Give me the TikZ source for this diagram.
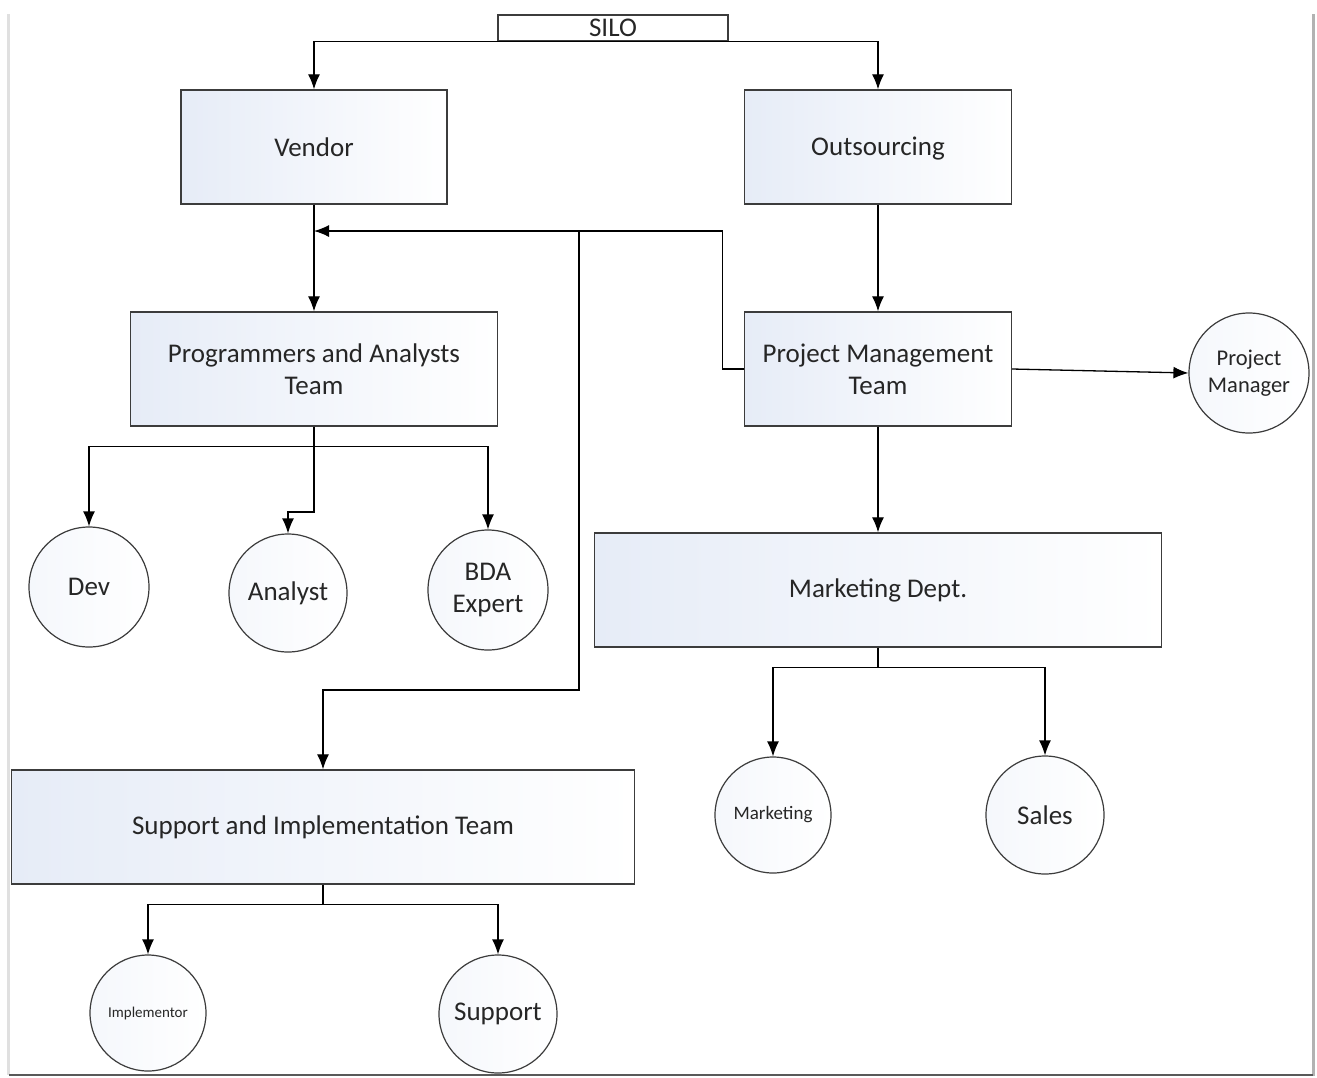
\documentclass[tikz,border=0pt]{standalone}
\usepackage{fontspec}
\setmainfont{Carlito}
\usetikzlibrary{arrows.meta}
\definecolor{boxblue}{RGB}{230,236,247}
\definecolor{edge}{RGB}{60,60,60}
\tikzset{
  box/.style={draw=edge, line width=1.4pt, rectangle, inner sep=0pt, align=center,
    left color=boxblue, right color=white, text=black!85, font=\fontsize{27}{32}\selectfont},
  circ/.style={draw=edge, line width=1.2pt, circle, inner sep=0pt, align=center,
    left color=boxblue!40, right color=white, text=black!85},
  conn/.style={draw=black, line width=1.3pt},
  arr/.style={conn, -{Latex[length=15pt,width=12pt]}},
}
\begin{document}
\begin{tikzpicture}[x=1pt,y=-1pt]
\useasboundingbox (0,0) rectangle (1317,1077);
\fill[white] (0,0) rectangle (1317,1077);
% page frame shadow
\draw[black!12, line width=3pt] (8,14) -- (8,1075);
\draw[black!30, line width=3pt] (1313,14) -- (1313,1076);
\draw[black!65, line width=2pt] (9,1075) -- (1313,1075);

% nodes
\node[draw=edge, line width=1.3pt, fill=white, minimum width=230pt, minimum height=26pt, inner sep=0pt,
  font=\fontsize{27}{30}\selectfont, text=black!85] (silo) at (613,28) {SILO};
\node[box, minimum width=266pt, minimum height=114pt] (ven) at (314,147) {Vendor};
\node[box, minimum width=267pt, minimum height=114pt, text height=17.5pt, text depth=0pt] (out) at (878,147) {Outsourcing};
\node[box, minimum width=367pt, minimum height=114pt] (pa) at (314,369) {Programmers and Analysts\\Team};
\node[box, minimum width=267pt, minimum height=114pt] (pm) at (878,369) {Project Management\\Team};
\node[box, minimum width=567pt, minimum height=114pt] (md) at (878,590) {Marketing Dept.};
\node[box, minimum width=623pt, minimum height=114pt] (sit) at (323,827) {Support and Implementation Team};

\node[circ, minimum size=120pt, font=\fontsize{22.5}{27}\selectfont] (pmgr) at (1249,373) {Project\\Manager};
\node[circ, minimum size=120pt, font=\fontsize{27}{32}\selectfont] (dev) at (89,587) {Dev};
\node[circ, minimum size=118pt, font=\fontsize{27}{32}\selectfont] (an) at (288,593) {Analyst};
\node[circ, minimum size=120pt, font=\fontsize{27}{32}\selectfont] (bda) at (488,590) {BDA\\Expert};
\node[circ, minimum size=116pt, font=\fontsize{19}{22}\selectfont] (mk) at (773,815) {Marketing};
\node[circ, minimum size=118pt, font=\fontsize{27}{32}\selectfont] (sal) at (1045,815) {Sales};
\node[circ, minimum size=116pt, font=\fontsize{15}{18}\selectfont] (imp) at (148,1013) {Implementor};
\node[circ, minimum size=118pt, font=\fontsize{27}{32}\selectfont] (sup) at (498,1014) {Support};

% connectors
\draw[arr] (silo.south) -| (ven.north);
\draw[arr] (silo.south) -| (out.north);
\draw[arr] (ven.south) -- (pa.north);
\draw[arr] (out.south) -- (pm.north);
\coordinate (jV) at (314,231);
\coordinate (jB) at (579,231);
\draw[arr] (pm.west) -- ++(-21,0) |- (jV);
\draw[arr] (jB) -- (579,690) -| (sit.north);
\draw[arr] (pm.east) -- (pmgr.west);
\draw[arr] (pm.south) -- (md.north);
% programmers children
\draw[conn] (pa.south) -- ++(0,20) coordinate (pb);
\draw[arr] (pb) -| (dev.north);
\draw[arr] (pb) -| (bda.north);
\draw[arr] (pb) -- (314,512) -| (an.north);
% marketing children
\draw[conn] (md.south) -- ++(0,20) coordinate (mb);
\draw[arr] (mb) -| (mk.north);
\draw[arr] (mb) -| (sal.north);
% support children
\draw[conn] (sit.south) -- ++(0,20) coordinate (sb);
\draw[arr] (sb) -| (imp.north);
\draw[arr] (sb) -| (sup.north);
\end{tikzpicture}
\end{document}
